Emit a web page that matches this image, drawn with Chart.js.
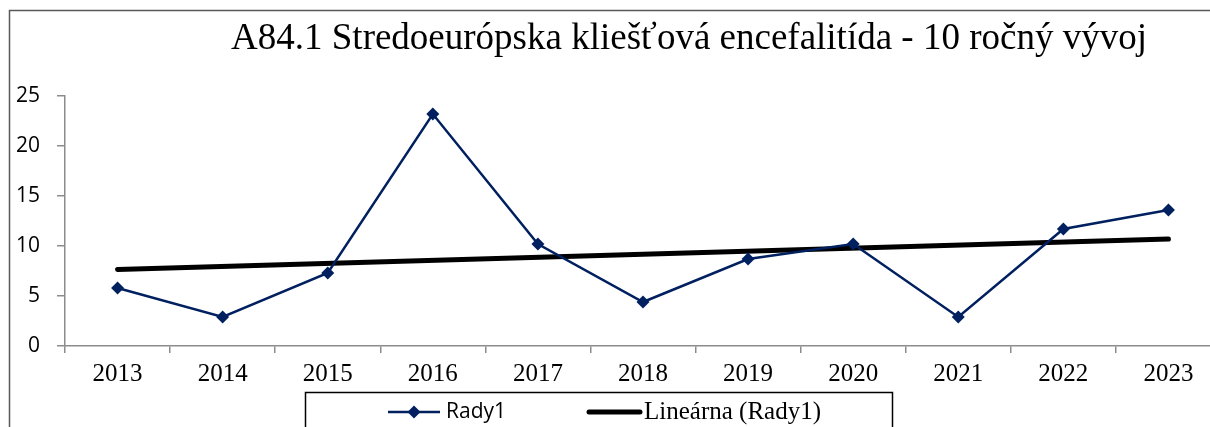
<!DOCTYPE html>
<html>
<head>
<meta charset="utf-8">
<script src="https://cdn.jsdelivr.net/npm/chart.js@4/dist/chart.umd.min.js"></script>
<style>
html, body { margin: 0; padding: 0; overflow: hidden; background: #fff; }
#wrap { position: absolute; left: 0; top: 0; width: 1240px; height: 427px; }
</style>
</head>
<body>
<div id="wrap"><canvas id="c" width="1240" height="427"></canvas></div>
<script>
const TITLE = 'A84.1 Stredoeurópska kliešťová encefalitída - 10 ročný vývoj';
const categories = ['2013','2014','2015','2016','2017','2018','2019','2020','2021','2022','2023'];
const rady1 = [5.8, 2.9, 7.3, 23.2, 10.2, 4.4, 8.7, 10.2, 2.9, 11.7, 13.6];
// linear trendline endpoints
const trend = [7.65, null, null, null, null, null, null, null, null, null, 10.7];
const yTicks = [0, 5, 10, 15, 20, 25];
const seriesName = 'Rady1';
const trendName = 'Lineárna (Rady1)';

const NAVY = '#002060';
const AXIS = '#8c8c8c';
const SANS = '"Open Sans", Lato, sans-serif';
const SERIF = '"Liberation Serif", "Times New Roman", serif';

const decor = {
  id: 'decor',
  afterDraw(chart) {
    const ctx = chart.ctx;
    ctx.save();
    // outer frame
    ctx.strokeStyle = '#595959';
    ctx.lineWidth = 1.5;
    ctx.beginPath();
    ctx.moveTo(9.5, 500); ctx.lineTo(9.5, 10.5); ctx.lineTo(1300, 10.5);
    ctx.stroke();
    // title
    ctx.fillStyle = '#000';
    ctx.font = '37px ' + SERIF;
    ctx.textAlign = 'center';
    ctx.textBaseline = 'alphabetic';
    ctx.fillText(TITLE, 689, 49);
    // legend box
    ctx.strokeStyle = '#000';
    ctx.lineWidth = 1.5;
    ctx.beginPath();
    ctx.moveTo(305.5, 500); ctx.lineTo(305.5, 392.5); ctx.lineTo(892.5, 392.5); ctx.lineTo(892.5, 500);
    ctx.stroke();
    // legend item 1
    const ly = 412;
    ctx.strokeStyle = NAVY; ctx.lineWidth = 2.5;
    ctx.beginPath(); ctx.moveTo(388, ly); ctx.lineTo(440, ly); ctx.stroke();
    ctx.fillStyle = NAVY;
    ctx.beginPath();
    ctx.moveTo(414, ly - 6.5); ctx.lineTo(420.5, ly); ctx.lineTo(414, ly + 6.5); ctx.lineTo(407.5, ly); ctx.closePath();
    ctx.fill();
    ctx.fillStyle = '#000';
    ctx.textAlign = 'left';
    ctx.textBaseline = 'middle';
    ctx.font = '21px ' + SANS;
    ctx.fillText(seriesName, 446, ly);
    // legend item 2
    ctx.strokeStyle = '#000'; ctx.lineWidth = 5; ctx.lineCap = 'round';
    ctx.beginPath(); ctx.moveTo(589, ly); ctx.lineTo(640, ly); ctx.stroke();
    ctx.font = '25px ' + SERIF;
    ctx.fillText(trendName, 644, ly);
    ctx.restore();
  }
};

new Chart(document.getElementById('c'), {
  type: 'line',
  data: {
    labels: categories,
    datasets: [
      {
        label: trendName,
        data: trend,
        borderColor: '#000',
        borderWidth: 5,
        borderCapStyle: 'round',
        pointRadius: 0,
        spanGaps: true,
        tension: 0,
        order: 2
      },
      {
        label: seriesName,
        data: rady1,
        borderColor: NAVY,
        backgroundColor: NAVY,
        borderWidth: 2.5,
        pointStyle: 'rectRot',
        pointRadius: 6.5,
        pointBorderWidth: 0,
        tension: 0,
        order: 1
      }
    ]
  },
  options: {
    responsive: false,
    animation: false,
    layout: { padding: { left: 9, top: 96, right: 19, bottom: 0 } },
    plugins: { legend: { display: false }, title: { display: false }, tooltip: { enabled: false } },
    scales: {
      x: {
        offset: true,
        grid: { offset: true, drawOnChartArea: false, color: AXIS, tickLength: 7, lineWidth: 1.5 },
        border: { color: AXIS, width: 1.5 },
        ticks: { color: '#000', font: { family: SERIF, size: 25 }, padding: 6, maxRotation: 0 },
        afterFit(s) { s.height = 81; }
      },
      y: {
        min: 0, max: 25,
        afterBuildTicks(s) { s.ticks = yTicks.map(v => ({ value: v })); },
        grid: { drawOnChartArea: false, color: AXIS, tickLength: 8, lineWidth: 1.5 },
        border: { color: AXIS, width: 1.5 },
        ticks: { color: '#000', font: { family: SANS, size: 21 }, padding: 17 },
        afterFit(s) { s.width = 56; }
      }
    }
  },
  plugins: [decor]
});
</script>
</body>
</html>
